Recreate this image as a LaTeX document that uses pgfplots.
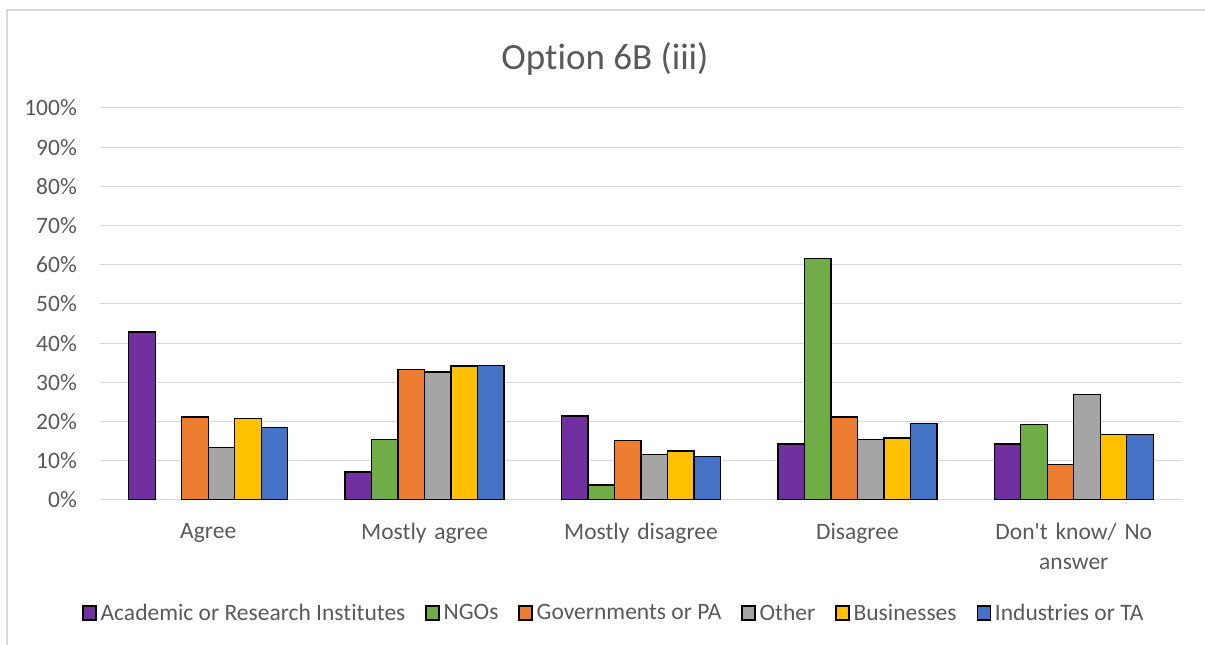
\documentclass[border=0pt]{standalone}
\usepackage{pgfplots}
\pgfplotsset{compat=1.18}
\usepackage{fontspec}
\setmainfont{Carlito}[Ligatures={NoCommon}]

\definecolor{txt}{HTML}{595959}
\definecolor{gridc}{HTML}{D9D9D9}
\definecolor{cAcad}{HTML}{7030A0}
\definecolor{cNGO}{HTML}{70AD47}
\definecolor{cGov}{HTML}{ED7D31}
\definecolor{cOther}{HTML}{A5A5A5}
\definecolor{cBus}{HTML}{FFC000}
\definecolor{cInd}{HTML}{4472C4}

\begin{document}
\begin{tikzpicture}[x=1pt,y=1pt]
\useasboundingbox (0,0) rectangle (1205,645);
% chart frame
\draw[gridc, line width=1.5pt] (7,-5) -- (7,635) -- (1215,635);
% title
\node[txt, font=\fontsize{37}{42}\selectfont] at (605,586) {Option 6B (iii)};

\begin{axis}[
  at={(100pt,145pt)}, anchor=south west,
  width=1082pt, height=392pt, scale only axis,
  ymin=0, ymax=100, ytick={0,10,...,100},
  xmin=-0.5, xmax=4.5, xtick={0,1,2,3,4},
  xticklabels={Agree, Mostly agree, Mostly disagree, Disagree, {Don\textquotesingle t know/ No\\answer}},
  ybar=0pt, bar width=26.5pt,
  ymajorgrids, grid style={gridc, line width=1pt},
  axis line style={draw=none}, major tick length=0pt,
  /pgf/number format/assume math mode=true,
  yticklabel={\pgfmathprintnumber{\tick}\%},
  ticklabel style={txt, font=\fontsize{23.5}{30}\selectfont},
  yticklabel style={anchor=east, inner sep=0pt, xshift=-23pt},
  xticklabel style={anchor=north, inner sep=0pt, yshift=-23pt, text width=200pt, align=center},
  legend style={draw=none, fill=none, at={(0.475,-0.288)}, anchor=center,
    font=\fontsize{23.5}{28}\selectfont, text=txt, legend columns=-1,
    /tikz/every even column/.append style={column sep=18pt},
    /tikz/every odd column/.append style={column sep=2pt}},
  legend cell align=left,
  legend image code/.code={\draw[#1, draw=black, line width=1.3pt] (0pt,-7pt) rectangle (13pt,7pt);},
  every axis plot/.append style={draw=black, line width=1.3pt},
]
\addplot[fill=cAcad] coordinates {(0,42.86) (1,7.14) (2,21.43) (3,14.29) (4,14.29)};
\addplot[fill=cNGO] coordinates {(1,15.38) (2,3.85) (3,61.54) (4,19.23)};
\addplot[fill=cGov] coordinates {(0,21.21) (1,33.33) (2,15.15) (3,21.21) (4,9.09)};
\addplot[fill=cOther] coordinates {(0,13.46) (1,32.69) (2,11.54) (3,15.38) (4,26.92)};
\addplot[fill=cBus] coordinates {(0,20.83) (1,34.17) (2,12.50) (3,15.83) (4,16.67)};
\addplot[fill=cInd] coordinates {(0,18.52) (1,34.26) (2,11.11) (3,19.44) (4,16.67)};
\legend{Academic or Research Institutes, NGOs, Governments or PA, Other, Businesses, Industries or TA}
\end{axis}
\end{tikzpicture}
\end{document}
